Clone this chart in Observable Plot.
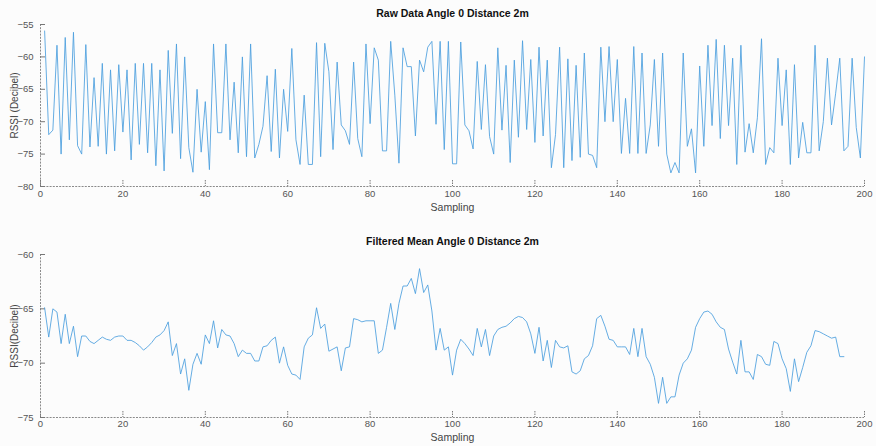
<!DOCTYPE html>
<html><head><meta charset="utf-8">
<script src="https://cdn.jsdelivr.net/npm/d3@7"></script>
<script src="https://cdn.jsdelivr.net/npm/@observablehq/plot@0.6"></script>
<style>
html,body{margin:0;padding:0;background:#fcfcfc;}
#wrap{position:relative;width:876px;height:446px;overflow:hidden;}
#top{position:absolute;left:0;top:0;}
#bot{position:absolute;left:0;top:222px;}
</style></head><body><div id="wrap"><div id="top"></div><div id="bot"></div></div>
<script>
// Raw RSSI readings, samples 1..200
const rawRssi = [
-56,-72,-71.3,-58.2,-75,-57,-72.8,-56.2,-73.7,-75,
-58.1,-73.9,-63.2,-73.8,-61,-75,-62,-74.5,-61.2,-71.6,
-62,-75.9,-61,-73.5,-61,-74.8,-61,-76.8,-62,-77.6,
-59,-71.8,-58,-75.7,-60,-74,-77.8,-65,-74.7,-66.9,
-77.4,-58,-71.7,-71.7,-58,-72.8,-63.9,-74.8,-60,-75.4,
-58,-75.6,-73.5,-70.7,-62.9,-74.6,-61.9,-75.6,-65,-71.5,
-58.7,-72.8,-76.6,-65.9,-76.6,-76.6,-57.8,-75.4,-57.9,-62.3,
-74.3,-60.8,-70.5,-71.4,-73.5,-60.8,-72.6,-75.4,-58,-70.3,
-58.6,-60.5,-74.5,-74.5,-57.6,-65.9,-76.4,-58.6,-61.5,-61.5,
-72.2,-60.5,-62.3,-58.5,-57.6,-70.4,-57.6,-74.3,-57.6,-76.5,
-76.5,-57.7,-70.5,-71.4,-74.2,-60.7,-71.2,-61.2,-72.3,-75,
-58.6,-71.3,-61.3,-76.3,-60.5,-72.4,-57.5,-71.2,-60.4,-73.2,
-58.5,-72.2,-60.5,-77.1,-72,-58.5,-77.1,-60.3,-76,-61.3,
-75.5,-59.4,-75,-75.2,-77.1,-58.5,-70,-58.4,-70,-60.4,
-74.9,-66.4,-74.9,-58.4,-74.9,-59.4,-74.9,-70.5,-60.4,-73.8,
-59.4,-75,-77.9,-76.3,-77.9,-59.4,-73.8,-71.1,-77.9,-61.4,
-73.8,-58.2,-70.6,-57.3,-72.6,-58.2,-70.6,-60.2,-76.6,-58.2,
-74.7,-70.3,-74.8,-69.4,-57.2,-76.6,-74,-74.8,-60.2,-70.6,
-62,-76.6,-61.2,-75.6,-70.1,-74.8,-74.8,-58.2,-74.5,-70,
-60.2,-70.5,-65.6,-60.2,-74.5,-73.8,-60.2,-70.9,-75.6,-60
];
// Filtered mean RSSI, samples 1..195
const filteredRssi = [
-64.9,-67.6,-65,-65.3,-68.2,-65.5,-68.2,-66.6,-69.4,-67.5,
-67.5,-68,-68.2,-67.9,-67.6,-67.8,-67.9,-67.6,-67.5,-67.5,
-67.9,-67.9,-68.1,-68.4,-68.8,-68.5,-68.1,-67.6,-67.4,-67,
-66.2,-69.3,-68.2,-71,-69.6,-72.5,-70.1,-69.1,-70.1,-67.4,
-68.2,-66.1,-68.6,-66.9,-67.4,-67.5,-68.2,-69.4,-68.8,-69.1,
-69.1,-69.8,-69.8,-68.5,-68.4,-67.9,-67.6,-70,-68.5,-70.2,
-71,-71.1,-71.5,-68.5,-67.7,-67.4,-64.9,-66.8,-66.4,-68.9,
-68.7,-68.5,-70.7,-68.6,-68.5,-65.9,-66,-66.2,-66.1,-66.1,
-66.1,-69.1,-68.8,-66.7,-64.5,-66.9,-64.5,-62.9,-62.9,-62.2,
-63.6,-61.3,-63.5,-62.8,-65.2,-68.8,-66.8,-68.8,-68.5,-71.1,
-68.8,-67.8,-68.2,-68.7,-69.3,-66.8,-68.5,-66.9,-69.3,-67.5,
-66.9,-66.7,-66.6,-66.3,-65.9,-65.7,-65.8,-66.2,-67.3,-69.1,
-66.7,-69.8,-67.9,-70.4,-67.9,-68.5,-68.6,-68.4,-70.8,-71,
-70.7,-69.6,-69.3,-68.4,-65.9,-65.6,-66.6,-67.8,-67.9,-68.5,
-68.5,-68.5,-69.2,-66.8,-69.4,-66.8,-69.4,-70.1,-71.3,-73.7,
-71.3,-73.7,-73.1,-73.1,-71.1,-70,-69.6,-68.8,-66.7,-65.9,
-65.3,-65.2,-65.5,-66.2,-66.7,-66.9,-68.7,-69.9,-71,-67.9,
-70.8,-70.8,-71.5,-69.2,-69.4,-70.1,-70.2,-68,-68.2,-69.6,
-70.5,-72.6,-69.6,-71.7,-70.4,-69,-68.4,-67,-67.1,-67.3,
-67.5,-67.7,-67.6,-69.4,-69.4
];
const xTicks = [0, 20, 40, 60, 80, 100, 120, 140, 160, 180, 200];
const rawYTicks = [-80, -75, -70, -65, -60, -55];
const filtYTicks = [-75, -70, -65, -60];
const xDomain = [0, 200];
const rawYDomain = [-80, -55];
const filtYDomain = [-75, -60];
const rawTitle = "Raw Data Angle 0 Distance 2m";
const filtTitle = "Filtered Mean Angle 0 Distance 2m";
const rawYLabel = "RSSI (Decibel)";
const filtYLabel = "RSSI(Decibel)";
const xLabel = "Sampling";

const FONT = "'Liberation Sans', Arial, Helvetica, sans-serif";
const LINE = "#4a9ede";
const AXIS = "#8a8a8a";

function panel({values, yDomain, yTicks, title, yLabel, height, marginTop, marginBottom, tickPad, titleDy, xLabelDy}) {
  const data = values.map((v, i) => ({sample: i + 1, rssi: v}));
  return Plot.plot({
    width: 876, height, marginTop, marginBottom, marginLeft: 40, marginRight: 12,
    style: {background: "transparent", fontFamily: FONT, fontSize: "9.5px"},
    x: {domain: xDomain, label: null},
    y: {domain: yDomain, label: null},
    marks: [
      Plot.axisX({ticks: xTicks, tickSize: 0, tickPadding: tickPad, color: "#555", label: null}),
      Plot.axisY({ticks: yTicks, tickSize: 0, tickPadding: 7, color: "#555", label: null}),
      Plot.ruleY([yDomain[0]], {stroke: AXIS, strokeWidth: 1, strokeDasharray: "2,1.2"}),
      Plot.ruleX([xDomain[0]], {stroke: AXIS, strokeWidth: 1, strokeDasharray: "2,1.2"}),
      Plot.ruleX(xTicks, {x: d => d, y1: yDomain[0], y2: yDomain[0], insetTop: -6, stroke: "#777", strokeDasharray: "1.5,1"}),
      Plot.ruleY(yTicks, {y: d => d, x1: xDomain[0], x2: xDomain[0], insetRight: -5, stroke: "#777"}),
      Plot.line(data, {x: "sample", y: "rssi", stroke: LINE, strokeWidth: 0.85}),
      Plot.text([title], {text: d => d, frameAnchor: "top", lineAnchor: "middle", dy: titleDy, fontWeight: "bold", fontSize: 10.5, fill: "#111"}),
      Plot.text([yLabel], {text: d => d, frameAnchor: "left", dx: -26, rotate: -90, textAnchor: "middle", lineAnchor: "middle", fontSize: 10, fill: "#444"}),
      Plot.text([xLabel], {text: d => d, frameAnchor: "bottom", lineAnchor: "middle", dy: xLabelDy, fontSize: 10.5, fill: "#444"})
    ]
  });
}

document.getElementById("top").append(panel({
  values: rawRssi, yDomain: rawYDomain, yTicks: rawYTicks, title: rawTitle, yLabel: rawYLabel,
  height: 218, marginTop: 24, marginBottom: 32, tickPad: 4, titleDy: -11, xLabelDy: 21
}));
document.getElementById("bot").append(panel({
  values: filteredRssi, yDomain: filtYDomain, yTicks: filtYTicks, title: filtTitle, yLabel: filtYLabel,
  height: 224, marginTop: 32, marginBottom: 29, tickPad: 3, titleDy: -13, xLabelDy: 20
}));
</script>
</body></html>
